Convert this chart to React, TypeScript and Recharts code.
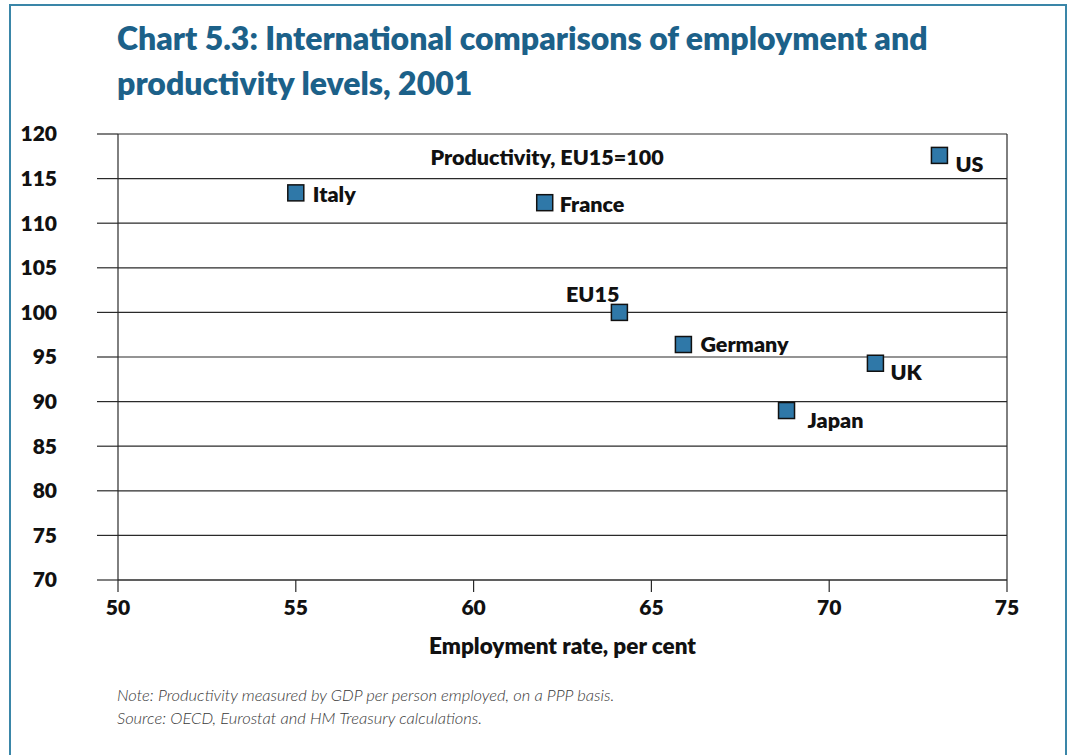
import React from 'react';
import {
  ScatterChart,
  Scatter,
  XAxis,
  YAxis,
  CartesianGrid,
  ReferenceLine,
} from 'recharts';

const countries = ['Italy', 'France', 'US', 'EU15', 'Germany', 'UK', 'Japan'];
const employmentRate = [55.0, 62.0, 73.1, 64.1, 65.9, 71.3, 68.8];
const productivity = [113.4, 112.3, 117.6, 100.0, 96.4, 94.3, 89.0];
const xTicks = [50, 55, 60, 65, 70, 75];
const yTicks = [70, 75, 80, 85, 90, 95, 100, 105, 110, 115, 120];

const data = countries.map((name, i) => ({
  name,
  x: employmentRate[i],
  y: productivity[i],
}));

const FONT = 'Lato, "Noto Sans", sans-serif';
const TITLE_COLOR = '#1c6189';
const MARKER_FILL = '#2f78a8';
const GRID = '#2a2a2a';
const W = 800;

// label placement relative to marker centre (style only)
const labelPlace: Record<string, { dx: number; dy: number; anchor: 'start' | 'end' }> = {
  Italy: { dx: 17, dy: 1, anchor: 'start' },
  France: { dx: 15, dy: 1, anchor: 'start' },
  US: { dx: 16, dy: 9, anchor: 'start' },
  EU15: { dx: 0, dy: -18, anchor: 'end' },
  Germany: { dx: 17, dy: -1, anchor: 'start' },
  UK: { dx: 15, dy: 9, anchor: 'start' },
  Japan: { dx: 21, dy: 9, anchor: 'start' },
};

const PointShape = (props: any) => {
  const { cx, cy, payload } = props;
  if (cx == null || cy == null) return null;
  const p = labelPlace[payload.name] || { dx: 15, dy: 0, anchor: 'start' };
  return (
    <g>
      <rect
        x={cx - 8}
        y={cy - 8}
        width={16}
        height={16}
        fill={MARKER_FILL}
        stroke="#111"
        strokeWidth={1.5}
      />
      <text
        x={cx + p.dx}
        y={cy + p.dy}
        textAnchor={p.anchor}
        dominantBaseline="central"
        fontFamily={FONT}
        fontWeight={W}
        fontSize={21.5}
        fill="#111"
      >
        {payload.name}
      </text>
    </g>
  );
};

const tickStyle = { fontFamily: FONT, fontWeight: W, fontSize: 21, fill: '#111' };

export default function App() {
  return (
    <div
      style={{
        position: 'absolute',
        left: 0,
        top: 0,
        width: 1069,
        height: 755,
        overflow: 'hidden',
        background: '#fff',
      }}
    >
      <div
        style={{
          position: 'absolute',
          left: 9,
          top: 4,
          width: 1054,
          height: 800,
          border: '2px solid #3a86a8',
        }}
      />
      <div
        style={{
          position: 'absolute',
          left: 117,
          top: 15,
          width: 920,
          fontFamily: FONT,
          fontWeight: W,
          fontSize: 32,
          lineHeight: '45px',
          color: TITLE_COLOR,
          whiteSpace: 'nowrap',
        }}
      >
        Chart 5.3: International comparisons of employment and
        <br />
        productivity levels, 2001
      </div>
      <div style={{ position: 'absolute', left: 0, top: 0 }}>
        <ScatterChart
          width={1069}
          height={755}
          margin={{ top: 134, right: 62, bottom: 115, left: 0 }}
        >
          <CartesianGrid horizontal vertical={false} stroke={GRID} strokeWidth={1.2} />
          <XAxis
            type="number"
            dataKey="x"
            domain={[50, 75]}
            ticks={xTicks}
            interval={0}
            allowDataOverflow
            height={60}
            tickSize={12}
            tickMargin={8}
            tick={tickStyle}
            axisLine={{ stroke: GRID, strokeWidth: 1.2 }}
            tickLine={{ stroke: GRID, strokeWidth: 1.2 }}
            label={{
              value: 'Employment rate, per cent',
              position: 'bottom',
              offset: -2,
              style: { fontFamily: FONT, fontWeight: W, fontSize: 22.5, fill: '#111' },
            }}
          />
          <YAxis
            type="number"
            dataKey="y"
            domain={[70, 120]}
            ticks={yTicks}
            interval={0}
            allowDataOverflow
            width={118}
            tickSize={21}
            tickMargin={40}
            tick={tickStyle}
            axisLine={{ stroke: GRID, strokeWidth: 1.2 }}
            tickLine={{ stroke: GRID, strokeWidth: 1.2 }}
          />
          <ReferenceLine x={75} stroke={GRID} strokeWidth={1.2} />
          <Scatter data={data} shape={PointShape} isAnimationActive={false} />
          <text
            x={547}
            y={157}
            textAnchor="middle"
            dominantBaseline="central"
            fontFamily={FONT}
            fontWeight={W}
            fontSize={21.5}
            fill="#111"
          >
            Productivity, EU15=100
          </text>
        </ScatterChart>
      </div>
      <div
        style={{
          position: 'absolute',
          left: 117,
          top: 684,
          fontFamily: FONT,
          fontStyle: 'italic',
          fontWeight: 300,
          fontSize: 16.5,
          lineHeight: '23px',
          color: '#3a3a3a',
          whiteSpace: 'nowrap',
        }}
      >
        Note: Productivity measured by GDP per person employed, on a PPP basis.
        <br />
        Source: OECD, Eurostat and HM Treasury calculations.
      </div>
    </div>
  );
}
